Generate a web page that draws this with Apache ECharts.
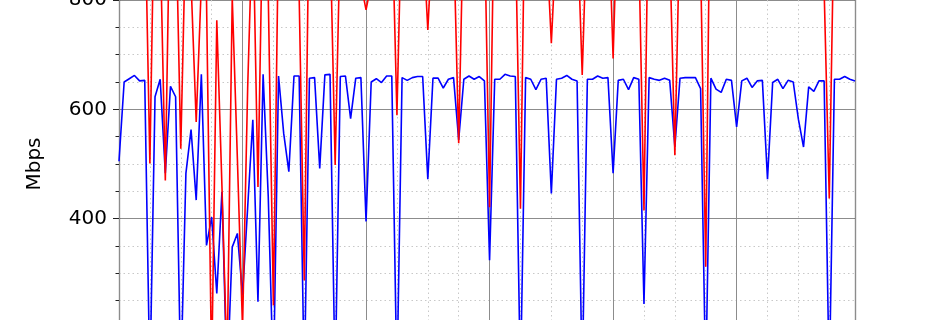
<!DOCTYPE html>
<html>
<head>
<meta charset="utf-8">
<script src="https://cdn.jsdelivr.net/npm/echarts@6/dist/echarts.min.js"></script>
<style>
  html, body { margin: 0; padding: 0; background: #fff; }
  #chart { width: 950px; height: 320px; }
</style>
</head>
<body>
<div id="chart"></div>
<script>
// hourly throughput samples, 6 days (index = hour)
const blueMbps = [
  505, 650, 656, 662, 652, 653, 100, 623, 655, 483, 642, 623,
  100, 483, 563, 434, 664, 351, 403, 263, 449, 100, 348, 373,
  260, 421, 581, 248, 664, 440, 100, 661, 556, 486, 661, 661,
  100, 657, 658, 492, 663, 664, 100, 660, 661, 583, 657, 658,
  395, 650, 656, 649, 661, 661, 100, 658, 653, 658, 660, 660,
  472, 657, 657, 639, 655, 658, 544, 655, 661, 655, 660, 652,
  324, 655, 655, 664, 661, 660, 100, 658, 655, 636, 655, 657,
  446, 655, 657, 662, 655, 652, 100, 655, 655, 661, 657, 658,
  483, 653, 655, 636, 658, 655, 244, 658, 655, 653, 657, 653,
  531, 657, 658, 658, 658, 638, 100, 657, 637, 631, 655, 653,
  568, 652, 657, 640, 652, 653, 472, 649, 655, 638, 653, 650,
  582, 531, 641, 633, 652, 652, 100, 655, 655, 660, 655, 652
];
const redMbps = [
  950, 960, 940, 970, 950, 990, 501, 1070, 915, 470, 1040, 975,
  528, 945, 833, 577, 830, 805, 120, 763, 460, 130, 805, 510,
  200, 640, 960, 458, 1000, 810, 241, 940, 980, 970, 960, 810,
  287, 1020, 960, 980, 970, 930, 498, 930, 960, 980, 950, 830,
  782, 830, 960, 980, 970, 973, 589, 995, 960, 980, 970, 930,
  745, 930, 970, 980, 960, 923, 538, 990, 970, 960, 980, 950,
  421, 1050, 980, 960, 970, 934, 418, 1077, 980, 960, 970, 918,
  721, 918, 970, 980, 960, 948, 663, 967, 980, 970, 960, 1000,
  693, 1017, 980, 960, 970, 890, 415, 1079, 970, 980, 960, 900,
  516, 953, 970, 980, 960, 872, 312, 1150, 980, 970, 960, 980,
  970, 960, 980, 970, 960, 980, 970, 960, 980, 970, 960, 980,
  970, 960, 980, 970, 960, 820, 437, 995, 980, 970, 960, 980
];
const yTicks = [200, 400, 600, 800];
const yLabel = 'Mbps';

const hours = blueMbps.map((_, i) => i);
const lastHour = hours[hours.length - 1];

const chart = echarts.init(document.getElementById('chart'), null, { renderer: 'canvas' });

const font = 'DejaVu Sans';
const majorGrid = { show: true, lineStyle: { color: '#8c8c8c', width: 1 } };
const minorGrid = { show: true, lineStyle: { color: '#c8c8c8', width: 1, type: [1.5, 3] } };

const option = {
  animation: false,
  backgroundColor: '#ffffff',
  // plot runs past the bottom of the picture, so 200 sits just off-canvas
  grid: { left: 119, right: 95, top: 0, bottom: -8, containLabel: false, outerBoundsMode: 'none' },
  xAxis: [
    {
      // major days
      type: 'value', min: 0, max: lastHour, interval: 24,
      axisLine: { show: true, onZero: false, lineStyle: { color: '#222', width: 1 } },
      axisTick: { show: true, lineStyle: { color: '#222' } },
      axisLabel: { show: false },
      splitLine: majorGrid,
      z: 3
    },
    {
      // 6 hour dotted grid
      type: 'value', min: 0, max: lastHour, interval: 6, position: 'bottom',
      axisLine: { show: false }, axisTick: { show: false }, axisLabel: { show: false },
      splitLine: minorGrid,
      z: 1
    }
  ],
  yAxis: [
    {
      type: 'value', min: yTicks[0], max: yTicks[yTicks.length - 1], interval: 200,
      name: yLabel, nameLocation: 'middle', nameGap: 74,
      nameTextStyle: { fontFamily: font, fontSize: 20, color: '#000' },
      axisLine: { show: true, onZero: false, lineStyle: { color: '#222', width: 1.2 } },
      axisTick: { show: true, length: 6, lineStyle: { color: '#222', width: 1 } },
      minorTick: { show: true, splitNumber: 4, length: 3.5, lineStyle: { color: '#222', width: 1 } },
      axisLabel: { fontFamily: font, fontSize: 20, color: '#000', margin: 12, showMinLabel: false },
      splitLine: majorGrid,
      minorSplitLine: minorGrid
    },
    {
      // right spine
      type: 'value', min: yTicks[0], max: yTicks[yTicks.length - 1], position: 'right',
      axisLine: { show: true, onZero: false, lineStyle: { color: '#222', width: 1.2 } },
      axisTick: { show: false }, axisLabel: { show: false }, splitLine: { show: false }
    }
  ],
  series: [
    {
      name: 'blue', type: 'line', xAxisIndex: 0, yAxisIndex: 0,
      data: hours.map(h => [h, blueMbps[h]]),
      showSymbol: false, clip: true,
      lineStyle: { color: '#0000ff', width: 1.6 }
    },
    {
      name: 'red', type: 'line', xAxisIndex: 0, yAxisIndex: 0,
      data: hours.map(h => [h, redMbps[h]]),
      showSymbol: false, clip: true,
      lineStyle: { color: '#ff0000', width: 1.6 }
    }
  ]
};

chart.setOption(option);
</script>
</body>
</html>
